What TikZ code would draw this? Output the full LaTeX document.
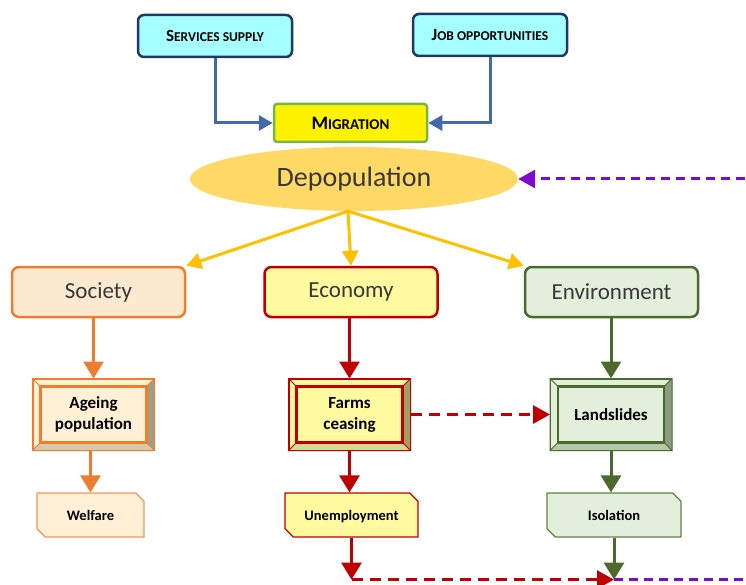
\documentclass[tikz,border=0pt]{standalone}
\usepackage{fontspec}
\setmainfont{Carlito}
\usetikzlibrary{arrows.meta,shapes.geometric,shapes.misc,calc}

\definecolor{navy}{RGB}{31,56,100}
\definecolor{cyanfill}{RGB}{166,255,255}
\definecolor{miggreen}{RGB}{120,180,80}
\definecolor{steel}{RGB}{68,105,168}
\definecolor{gold}{RGB}{255,217,102}
\definecolor{amber}{RGB}{255,192,0}
\definecolor{violet}{RGB}{125,10,205}
\definecolor{orgline}{RGB}{237,125,49}
\definecolor{orgfill}{RGB}{253,233,208}
\definecolor{orgface}{RGB}{255,240,214}
\definecolor{orgside}{RGB}{168,156,128}
\definecolor{orgbot}{RGB}{216,202,168}
\definecolor{redline}{RGB}{192,0,0}
\definecolor{redfill}{RGB}{255,250,160}
\definecolor{redside}{RGB}{160,160,96}
\definecolor{redbot}{RGB}{216,216,144}
\definecolor{grnline}{RGB}{75,106,44}
\definecolor{grnfill}{RGB}{226,239,218}
\definecolor{grnside}{RGB}{140,156,128}
\definecolor{grnbot}{RGB}{184,200,172}
\definecolor{txtgray}{RGB}{56,56,56}

\newcommand\fakesc[3][17]{{\fontsize{#1}{#1}\selectfont #2}{\fontsize{13.5}{13.5}\selectfont #3}}

\begin{document}
\begin{tikzpicture}[x=1pt,y=-1pt,
    topbox/.style={draw=navy, fill=cyanfill, line width=2.5pt, rounded corners=6pt, minimum width=154pt, minimum height=42pt, font=\bfseries},
    headbox/.style={rounded corners=7pt, line width=2.5pt, minimum width=173pt, minimum height=50pt, text=txtgray, font=\fontsize{23}{23}\selectfont},
    bevelbox/.style={line width=1pt, minimum width=121pt, minimum height=71pt, align=center, font=\bfseries\fontsize{17}{21}\selectfont},
    snipbox/.style={chamfered rectangle, chamfered rectangle corners={north east,south west}, chamfered rectangle xsep=5pt, line width=1.2pt, minimum height=44pt, inner xsep=2pt, text depth=0pt, font=\bfseries\fontsize{14.5}{14.5}\selectfont},
    arr/.style={line width=3pt, -{Triangle[length=17pt,width=20pt]}},
    dasharr/.style={line width=3pt, dash pattern=on 11pt off 7pt, -{Triangle[length=17pt,width=18pt]}}]
\useasboundingbox (0,0) rectangle (746,585);

\node[topbox] (serv) at (215,36) {\fakesc{S}{ERVICES SUPPLY}};
\node[topbox] (job) at (490,35) {\fakesc{J}{OB OPPORTUNITIES}};
\node[draw=miggreen, fill=yellow, line width=2.5pt, rounded corners=3pt, minimum width=153pt, minimum height=38pt, font=\bfseries] (mig) at (350.5,123) {\fakesc[19]{M}{\fontsize{15}{15}\selectfont IGRATION}};
\node[ellipse, fill=gold, minimum width=328pt, minimum height=64pt, text=txtgray, font=\fontsize{28}{28}\selectfont] (dep) at (354,179) {Depopulation};

\node[headbox, draw=orgline, fill=orgfill] (soc) at (98.5,292) {Society};
\node[headbox, draw=redline, fill=redfill] (eco) at (351,292) {Economy};
\node[headbox, draw=grnline, fill=grnfill] (env) at (611.5,292) {Environment};

\node[bevelbox, draw=orgline, fill=orgface] (age) at (93.5,414.5) {Ageing\\population};
\node[bevelbox, draw=redline, fill=redfill] (farm) at (349.5,414.5) {Farms\\ceasing};
\node[bevelbox, draw=grnline, fill=grnfill] (land) at (611,414.5) {Landslides};
\foreach \n/\s/\b/\l in {age/orgside/orgbot/orgline, farm/redside/redbot/redline, land/grnside/grnbot/grnline}{
    \fill[\s] (\n.north east) -- ++(-8,8) -- ($(\n.south east)+(-8,-8)$) -- (\n.south east) -- cycle;
    \fill[\b] (\n.south west) -- ++(8,-8) -- ($(\n.south east)+(-8,-8)$) -- (\n.south east) -- cycle;
    \draw[\l, line width=1pt] (\n.north west) rectangle (\n.south east)
        (\n.north west) -- ++(8,8) (\n.north east) -- ++(-8,8) (\n.south west) -- ++(8,-8) (\n.south east) -- ++(-8,-8);
    \draw[\l, line width=2.5pt] ($(\n.north west)+(8,8)$) rectangle ($(\n.south east)+(-8,-8)$);
}

\node[snipbox, draw=orgline!80, fill=orgface, minimum width=107pt] (wel) at (90.5,515) {Welfare};
\node[snipbox, draw=redline, fill=redfill, minimum width=133pt] (unemp) at (351.5,515) {Unemployment};
\node[snipbox, draw=grnline!85, fill=grnfill, minimum width=134pt] (iso) at (614,515) {Isolation};
\coordinate (ut) at ($(unemp.south)+(0,42)$);
\coordinate (it) at ($(iso.south)+(0,42)$);

\draw[steel, line width=3pt, -{Triangle[length=14pt,width=15pt]}] (serv) |- (mig);
\draw[steel, line width=3pt, -{Triangle[length=14pt,width=15pt]}] (job) |- (mig);
\draw[amber, line width=3pt, -{Triangle[length=15pt,width=16pt]}] ($(dep.south)+(-6,0)$) -- (soc.north east);
\draw[amber, line width=3pt, -{Triangle[length=15pt,width=16pt]}] ($(dep.south)+(-6,0)$) -- (eco.north);
\draw[amber, line width=3pt, -{Triangle[length=15pt,width=16pt]}] ($(dep.south)+(-6,0)$) -- (env.north west);

\draw[arr, orgline] (soc.south -| age.north) -- (age.north);
\draw[arr, orgline] (age.south -| wel.north) -- (wel.north);
\draw[arr, redline] (eco.south -| farm.north) -- (farm.north);
\draw[arr, redline] (farm.south) -- (farm.south |- unemp.north);
\draw[arr, redline] (unemp.south) -- (ut);
\draw[arr, grnline] (env.south -| land.north) -- (land.north);
\draw[arr, grnline] (land.south) -- (land.south |- iso.north);
\draw[arr, grnline] (iso.south) -- (it);

\draw[dasharr, redline] (farm.east) -- (land.west);
\draw[dasharr, redline] (ut) -- (it);
\draw[dasharr, violet, dash pattern=on 9pt off 6pt] (it) -- ++(150,0) |- (dep.east);
\end{tikzpicture}
\end{document}
